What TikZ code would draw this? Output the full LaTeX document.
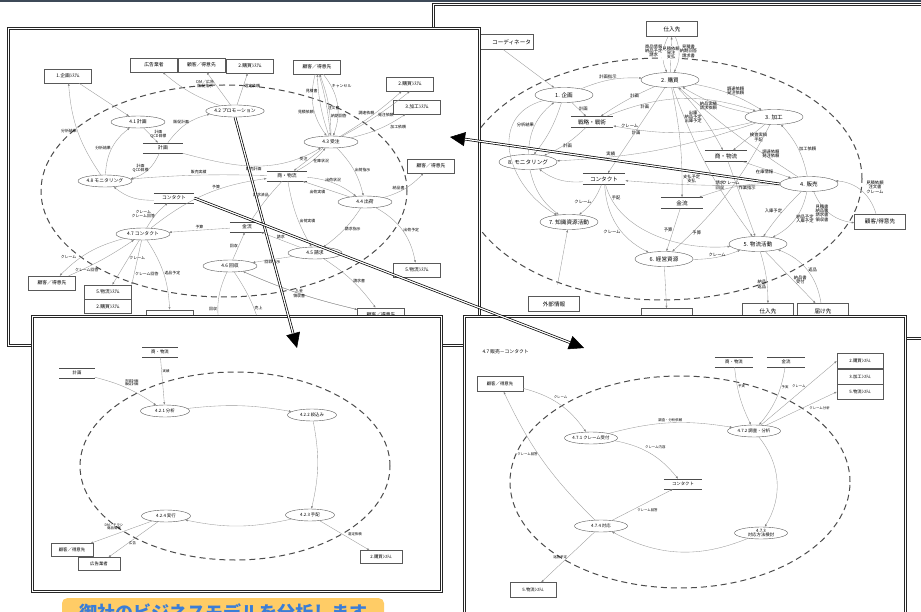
\documentclass[tikz,border=0pt]{standalone}
\usepackage{fontspec}
\setmainfont{Noto Sans CJK JP}
\usetikzlibrary{arrows.meta, positioning, shapes.geometric}

\newcommand{\dfdsize}[1]{\fontsize{#1}{#1}\selectfont}

\definecolor{bandgrey}{RGB}{62,74,88}
\definecolor{memoyellow}{RGB}{255,204,102}
\definecolor{memoblue}{RGB}{58,125,216}

\begin{document}
\begin{tikzpicture}[
        x = 1pt, y = -1pt,
        >= {Latex[length = 2.6pt, width = 2pt]},
        proc/.style = {ellipse, draw = black!65, line width = 0.4pt, minimum width = 54pt, minimum height = 12pt, inner sep = 0pt, font = \dfdsize{4.8}},
        ext/.style = {draw = black!65, line width = 0.4pt, minimum width = 47pt, minimum height = 14pt, inner sep = 0pt, font = \dfdsize{4.8}},
        store/.style = {minimum width = 40pt, minimum height = 10pt, inner sep = 0pt, font = \dfdsize{4.8},
            append after command = {
                (\tikzlastnode.north west) edge [-, draw = black!70, line width = 0.4pt] (\tikzlastnode.north east)
                (\tikzlastnode.south west) edge [-, draw = black!70, line width = 0.4pt] (\tikzlastnode.south east)}},
        flow/.style = {->, draw = black!40, line width = 0.35pt},
        lbl/.style = {font = \dfdsize{3.9}, text = black, inner sep = 0.8pt, align = center},
        boundary/.style = {draw = black!70, line width = 1pt, dash pattern = on 6pt off 4pt},
        sheetouter/.style = {fill = white, draw = black!85, line width = 0.7pt},
        sheetinner/.style = {draw = black!85, line width = 0.6pt},
        zoomline/.style = {draw = black, double = white, double distance = 1.2pt, line width = 0.7pt, shorten >= 15pt},
        zoomhead/.style = {-{Triangle[length = 15pt, width = 14pt]}, line width = 0.5pt}
    ]

    \useasboundingbox (0,0) rectangle (921,612);
    \fill[white] (0,0) rectangle (921,612);


    \filldraw[sheetouter] (432,3) rectangle (945,339);
    \draw[sheetinner] (434.2,5.2) rectangle (942.8,336.8);

    \begin{scope}[
            proc/.append style = {font = \dfdsize{5.6}, minimum width = 58pt, minimum height = 15pt},
            ext/.append style = {font = \dfdsize{5.6}, minimum width = 51pt, minimum height = 15pt},
            store/.append style = {font = \dfdsize{5.6}, minimum width = 42pt, minimum height = 11pt},
            lbl/.append style = {font = \dfdsize{4.3}}
        ]

      \draw[boundary] (662,179) ellipse [x radius = 200pt, y radius = 121pt];

      \node[proc] (b1) at (564,95) {1. 企画};
      \node[proc] (b2) at (670,80) {2. 購買};
      \node[proc] (b3) at (774,117) {3. 加工};
      \node[proc] (b4) at (809,184) {4. 販売};
      \node[proc] (b5) at (758,244) {5. 物流活動};
      \node[proc] (b6) at (664,259) {6. 経営資源};
      \node[proc] (b7) at (569,222) {7. 知識資源活動};
      \node[proc] (b8) at (528,162) {8. モニタリング};

      \node[store] (bstrat) at (592,122) {戦略・戦術};
      \node[store] (bgoods) at (726,156) {商・物流};
      \node[store] (bcontact) at (604,179) {コンタクト};
      \node[store] (bmoney) at (682,203) {金流};

      \node[ext, minimum width = 80pt, text width = 76pt, align = right] (bcoord) at (493,42) {コーディネータ};
      \node[ext] (bsupp1) at (672,29) {仕入先};
      \node[ext] (bcust) at (880,222) {顧客/得意先};
      \node[ext] (binfo) at (554,304) {外部情報};
      \node[ext] (bres) at (667,316) {};
      \node[ext] (bsupp2) at (768,311) {仕入先};
      \node[ext] (bdest) at (823,311) {届け先};

      \path[flow]
            (bcoord) edge (b1)
            (b1) edge [bend left = 12] node [lbl, above, pos = 0.45] {計画指示} (b2)
            (b1) edge node [lbl, right, pos = 0.45] {計画} (bstrat)
            (b2) edge [bend right = 5] node [lbl, above right, pos = 0.45] {計画} (bstrat)
            (bstrat) edge [bend left = 20] node [lbl, below, pos = 0.25] {計画} (b3)
            (b3) edge [bend left = 12] node [lbl, below, pos = 0.85] {計画} (bstrat)
            (bstrat) edge [bend left = 10] node [lbl, right, pos = 0.6] {計画} (b8)
            (b8) edge [bend left = 25] node [lbl, left] {分析結果} (b1)
            (b1) edge [bend left = 10] (b8)
            (b1) edge [out = 195, in = 150, looseness = 1.3] (b7)
            (b8) edge [bend right = 20] (b7)
            (bsupp1) edge [bend right = 25] node [lbl, left, pos = 0.4] {商品情報\\納品予定\\請求} (b2)
            (b2) edge node [lbl, fill = white, pos = 0.55] {見積依頼\\発注\\支払} (bsupp1)
            (bsupp1) edge [bend left = 25] node [lbl, right, pos = 0.4] {見積書\\納期回答\\請求書} (b2)
            (b2) edge [bend left = 10] node [lbl, above, pos = 0.6] {調達依頼\\発注依頼} (b3)
            (b3) edge [bend left = 10] node [lbl, below, pos = 0.6] {納品実績\\請求依頼} (b2)
            (b2) edge [bend left = 8] node [lbl, left, pos = 0.5] {出庫\\納品予定\\出庫予定} (bgoods)
            (b3) edge node [lbl, right, pos = 0.5] {検査実績\\手配} (bgoods)
            (b4) edge [bend right = 15] node [lbl, right] {加工依頼} (b3)
            (b4) edge [bend left = 4] node [lbl, above, pos = 0.2] {調達依頼\\発注依頼} (b2)
            (bgoods) edge node [lbl, below, pos = 0.45] {在庫情報} (b4)
            (bcust) edge [bend right = 35] node [lbl, above right, pos = 0.4] {見積依頼\\注文書\\クレーム} (b4)
            (b4) edge [bend right = 30] node [lbl, left, pos = 0.5] {見積書\\納品書\\請求書\\領収書} (bcust)
            (b4) edge [bend right = 5] node [lbl, left, pos = 0.45] {入庫予定} (b5)
            (b4) edge [bend left = 25] node [lbl, right, pos = 0.5] {納品予定\\入庫予定} (b5)
            (b4) edge [bend right = 10] node [lbl, above, pos = 0.75] {請求\\回収} (bmoney)
            (bgoods) edge node [lbl, right, pos = 0.35] {作業指示} (b5)
            (b2) edge [bend right = 8] (b5)
            (b2) edge [bend left = 6] node [lbl, right, pos = 0.85] {支払予定\\支払} (bmoney)
            (b2) edge node [lbl, left, pos = 0.45] {クレーム} (bcontact)
            (b3) edge [bend left = 8] node [lbl, above, pos = 0.75] {実績} (b8)
            (b4) edge [bend left = 3] node [lbl, above, pos = 0.3] {クレーム} (bcontact)
            (bcontact) edge [bend left = 20] (b8)
            (bcontact) edge [bend left = 15] node [lbl, left] {クレーム} (b7)
            (bcontact) edge [out = -75, in = 185, looseness = 0.9] node [lbl, right, pos = 0.1] {手配} (b5)
            (bcontact) edge [bend right = 30] node [lbl, left, pos = 0.6] {クレーム} (b6)
            (bmoney) edge node [lbl, left] {予算} (b6)
            (b3) edge [bend left = 10] node [lbl, right, pos = 0.85] {予算} (b6)
            (b6) edge [bend right = 10] node [lbl, above] {クレーム} (b5)
            (b6) edge (bres)
            (binfo) edge [shorten <= 12pt] (b7)
            (b5) edge [bend left = 8] node [lbl, left, pos = 0.65] {納品\\返品} (bsupp2)
            (b5) edge node [lbl, right, pos = 0.55] {納品書\\受付} (bdest)
            (bdest) edge [bend right = 30] node [lbl, right] {返品} (b5);

    \end{scope}

    \fill[bandgrey] (0,0) rectangle (921,1.8);


    \filldraw[sheetouter] (7,27) rectangle (480,346);
    \draw[sheetinner] (9.2,29.2) rectangle (477.8,343.8);

    \draw[boundary] (224,191) ellipse [x radius = 183pt, y radius = 106pt];

    \node[proc] (a41) at (138,122) {4.1 計画};
    \node[proc] (a42) at (235,111) {4.2 プロモーション};
    \node[proc] (a43) at (331,142) {4.3 受注};
    \node[proc] (a44) at (365,202) {4.4 出荷};
    \node[proc] (a45) at (315,253) {4.5 請求};
    \node[proc] (a46) at (230,266) {4.6 回収};
    \node[proc] (a47) at (143,234) {4.7 コンタクト};
    \node[proc] (a48) at (105,181) {4.8 モニタリング};

    \node[store] (aplan) at (163,148) {計画};
    \node[store] (agoods) at (287,176) {商・物流};
    \node[store] (acontact) at (174,198) {コンタクト};
    \node[store, minimum width = 34pt] (amoney) at (247,227) {金流};

    \node[ext] (aplansys) at (68,76) {1.企画ｼｽﾃﾑ};
    \node[ext] (aagency) at (154,65) {広告業者};
    \node[ext, right = 0pt of aagency] (acust1) {顧客／得意先};
    \node[ext] (apurch1) at (250,66) {2.購買ｼｽﾃﾑ};
    \node[ext] (acust2) at (317,67) {顧客／得意先};
    \node[ext] (apurch2) at (410,84) {2.購買ｼｽﾃﾑ};
    \node[ext] (aproc) at (417,107) {3.加工ｼｽﾃﾑ};
    \node[ext] (acust3) at (431,166) {顧客／得意先};
    \node[ext] (alogi1) at (417,270) {5.物流ｼｽﾃﾑ};
    \node[ext] (acust4) at (52,283) {顧客／得意先};
    \node[ext] (alogi2) at (108,292) {5.物流ｼｽﾃﾑ};
    \node[ext, below = 0pt of alogi2] (apurch3) {2.購買ｼｽﾃﾑ};
    \node[ext] (aret) at (170,317) {};
    \node[ext] (acust5) at (381,315) {顧客／得意先};
    \coordinate (acash1) at (222,335);
    \coordinate (acash2) at (262,335);

    \path[flow]
          (aplansys) edge (a41)
          (a48) edge [bend left = 15] node [lbl, left] {分析結果} (aplansys)
          (a48) edge [bend left = 25] node [lbl, left] {分析結果} (a41)
          (a41) edge node [lbl, right, pos = 0.4] {計画\\QCD目標} (aplan)
          (aplan) edge [bend left = 25] node [lbl, left, pos = 0.45] {計画\\QCD目標} (a48)
          (aplan) edge [bend left = 20] node [lbl, left, pos = 0.6] {販促計画} (a42)
          (aplan) edge [out = -15, in = -150] node [lbl, below] {販売計画} (a43)
          (a42) edge [bend left = 10] (aagency)
          (a42) edge node [lbl, left, pos = 0.65] {DM／広告\\販促指示} (acust1)
          (a42) edge node [lbl, right, pos = 0.6] {選定依頼} (apurch1)
          (acust2) edge [bend right = 25] node [lbl, left, pos = 0.6] {見積依頼} (a43)
          (a43) edge [bend left = 8] node [lbl, left, pos = 0.75] {見積書} (acust2)
          (acust2) edge [bend left = 5] node [lbl, right, pos = 0.55] {注文書} (a43)
          (a43) edge [bend right = 10] node [lbl, right, pos = 0.3] {納期回答} (acust2)
          (acust2) edge [bend left = 30] node [lbl, right, pos = 0.2] {キャンセル} (a43)
          (a43) edge [bend right = 5] node [lbl, left, pos = 0.55] {調達依頼} (apurch2)
          (a43) edge [bend right = 5] node [lbl, right, pos = 0.5] {発注依頼} (apurch2.south)
          (a43) edge [bend right = 10] node [lbl, below right, pos = 0.7] {加工依頼} (aproc)
          (a43) edge node [lbl, left] {受注} (agoods)
          (agoods) edge [bend right = 10] node [lbl, right] {在庫状況} (a43)
          (a43) edge [bend left = 15] node [lbl, right] {出荷指示} (a44)
          (agoods) edge [bend right = 3] node [lbl, above] {販売実績} (a48)
          (agoods) edge [bend left = 15] node [lbl, above] {出荷状況} (a44)
          (a44) edge [bend right = 15] node [lbl, left] {納品書} (acust3)
          (a44) edge node [lbl, below left] {出荷実績} (agoods)
          (a44) edge [bend left = 25] node [lbl, right] {出荷予定} (alogi1)
          (a44) edge [bend left = 10] node [lbl, right] {請求指示} (a45)
          (agoods) edge [bend right = 10] node [lbl, right, pos = 0.6] {出荷実績} (a45)
          (agoods) edge [bend right = 5] node [lbl, left, pos = 0.35] {請求済品} (amoney)
          (a45) edge node [lbl, above] {請求} (amoney)
          (a46) edge node [lbl, left] {回収} (amoney)
          (a45) edge node [lbl, below] {回収指示} (a46)
          (a45) edge [bend left = 10] node [lbl, right] {請求書} (acust5)
          (acust5) edge [bend left = 5] node [lbl, above] {入金} (a46)
          (a46) edge [bend right = 5] node [lbl, below] {領収書} (acust5)
          (a46) edge [bend right = 20] node [lbl, left, pos = 0.6] {回収} (acash1)
          (a46) edge [bend left = 10] node [lbl, right, pos = 0.6] {売上} (acash2)
          (acontact) edge [bend left = 20] (a48)
          (a47) edge [bend left = 10] node [lbl, left] {クレーム\\クレーム回答} (acontact)
          (a47) edge [bend left = 15] node [lbl, above, pos = 0.6] {予算} (agoods)
          (amoney) edge node [lbl, above] {予算} (a47)
          (a47) edge [bend right = 15] node [lbl, above left, pos = 0.7] {クレーム} (acust4)
          (acust4) edge [bend right = 5] node [lbl, below, pos = 0.25] {クレーム回答} (a47)
          (a47) edge node [lbl, right, pos = 0.4] {クレーム} (alogi2)
          (a47) edge node [lbl, right, pos = 0.75] {クレーム回答} (alogi2.north east)
          (a47) edge [bend left = 15] node [lbl, right] {返品予定} (aret);


    \filldraw[sheetouter] (31,315) rectangle (442,592);
    \draw[sheetinner] (33.2,317.2) rectangle (439.8,589.8);

    \begin{scope}[
            proc/.append style = {font = \dfdsize{4.4}, minimum width = 49pt},
            ext/.append style = {font = \dfdsize{4.4}, minimum width = 42pt, minimum height = 13pt},
            store/.append style = {font = \dfdsize{4.4}, minimum width = 35pt},
            lbl/.append style = {font = \dfdsize{3.4}}
        ]

      \draw[boundary] (235,466) ellipse [x radius = 155pt, y radius = 94pt];

      \node[store] (cplan) at (77,373) {計画};
      \node[store] (cgoods) at (160,352) {商・物流};
      \node[proc] (c1) at (165,411) {4.2.1 分析};
      \node[proc] (c2) at (312,415) {4.2.2 絞込み};
      \node[proc] (c3) at (310,515) {4.2.3 手配};
      \node[proc] (c4) at (166,516) {4.2.4 実行};
      \node[ext] (ccust) at (72,550) {顧客／得意先};
      \node[ext] (cagency) at (99,564) {広告業者};
      \node[ext] (cpurch) at (381,557) {2.購買ｼｽﾃﾑ};

      \path[flow]
            (cplan) edge [bend left = 10] node [lbl, above right, pos = 0.45] {市場計画\\販促計画} (c1)
            (cgoods) edge node [lbl, right, pos = 0.3] {実績} (c1)
            (c1) edge [bend left = 8] (c2)
            (c2) edge [bend left = 12] (c3)
            (c3) edge [bend left = 12] (c4)
            (c4) edge node [lbl, above left, pos = 0.45] {DM／チラシ\\商品情報} (ccust)
            (c4) edge node [lbl, right, pos = 0.6] {広告} (cagency)
            (c3) edge node [lbl, above right, pos = 0.55] {選定依頼} (cpurch);

    \end{scope}


    \filldraw[sheetouter] (463,315) rectangle (906,630);
    \draw[sheetinner] (465.2,317.2) rectangle (903.8,630);

    \begin{scope}[
            proc/.append style = {font = \dfdsize{4.4}, minimum width = 53pt},
            ext/.append style = {font = \dfdsize{4.4}, minimum width = 46pt, minimum height = 15pt},
            store/.append style = {font = \dfdsize{4.4}, minimum width = 38pt},
            lbl/.append style = {font = \dfdsize{3.4}}
        ]

      \node[font = \dfdsize{4.8}, anchor = west] (dtitle) at (479,352) {4.7 販売－コンタクト};

      \draw[boundary] (680,482) ellipse [x radius = 170pt, y radius = 106pt];

      \node[ext] (dcust) at (500,384) {顧客／得意先};
      \node[store] (dgoods) at (734,362) {商・物流};
      \node[store] (dmoney) at (786,362) {金流};
      \node[ext] (dpurch) at (860,361) {2.購買ｼｽﾃﾑ};
      \node[ext, below = 0pt of dpurch] (dproc) {3.加工ｼｽﾃﾑ};
      \node[ext, below = 0pt of dproc] (dlogi) {5.物流ｼｽﾃﾑ};
      \node[proc] (d1) at (591,438) {4.7.1 クレーム受付};
      \node[proc] (d2) at (754,431) {4.7.2 調査・分析};
      \node[store] (dcontact) at (683,484) {コンタクト};
      \node[proc, align = center] (d3) at (761,533) {4.7.3\\対応方法検討};
      \node[proc] (d4) at (601,526) {4.7.4 対応};
      \node[ext] (dlogi2) at (533,590) {5.物流ｼｽﾃﾑ};

      \path[flow]
            (dcust) edge [bend left = 20] node [lbl, above right, pos = 0.4] {クレーム} (d1)
            (d1) edge [bend left = 12] node [lbl, above] {調査・分析依頼} (d2)
            (d1) edge [bend left = 20] node [lbl, above right, pos = 0.4] {クレーム内容} (dcontact)
            (dgoods) edge [bend right = 10] node [lbl, right, pos = 0.3] {予実} (d2)
            (dmoney) edge [bend left = 15] node [lbl, right, pos = 0.3] {予実} (d2)
            (d2) edge node [lbl, left, pos = 0.6] {クレーム} (dpurch.west)
            (d2) edge node [lbl, below right, pos = 0.6] {クレーム分析} (dlogi.west)
            (d2) edge [bend left = 35] (d3)
            (d3) edge [bend left = 25] (d4)
            (d4) edge node [lbl, below right, pos = 0.4] {クレーム回答} (dcontact)
            (d4) edge [bend left = 10] node [lbl, left, pos = 0.55] {クレーム回答} (dcust)
            (d4) edge node [lbl, left, pos = 0.5] {返品予定} (dlogi2);

    \end{scope}


    \node[fill = memoyellow, rounded corners = 5pt, text = memoblue, font = \dfdsize{18}\bfseries,
          minimum width = 322pt, inner ysep = 4pt, text height = 17pt, text depth = 4pt, anchor = north]
          (memo) at (223,598) {御社のビジネスモデルを分析します};


    \coordinate (tipA) at (450,137);
    \coordinate (tipC) at (297,348);
    \coordinate (tipD) at (584,348);

    \draw[zoomhead] (b4.west) -- (tipA);
    \draw[zoomline] (b4.west) -- (tipA);
    \draw[zoomhead] (a42.south) -- (tipC);
    \draw[zoomline] (a42.south) -- (tipC);
    \draw[zoomhead] (acontact.east) -- (tipD);
    \draw[zoomline] (acontact.east) -- (tipD);

\end{tikzpicture}
\end{document}
